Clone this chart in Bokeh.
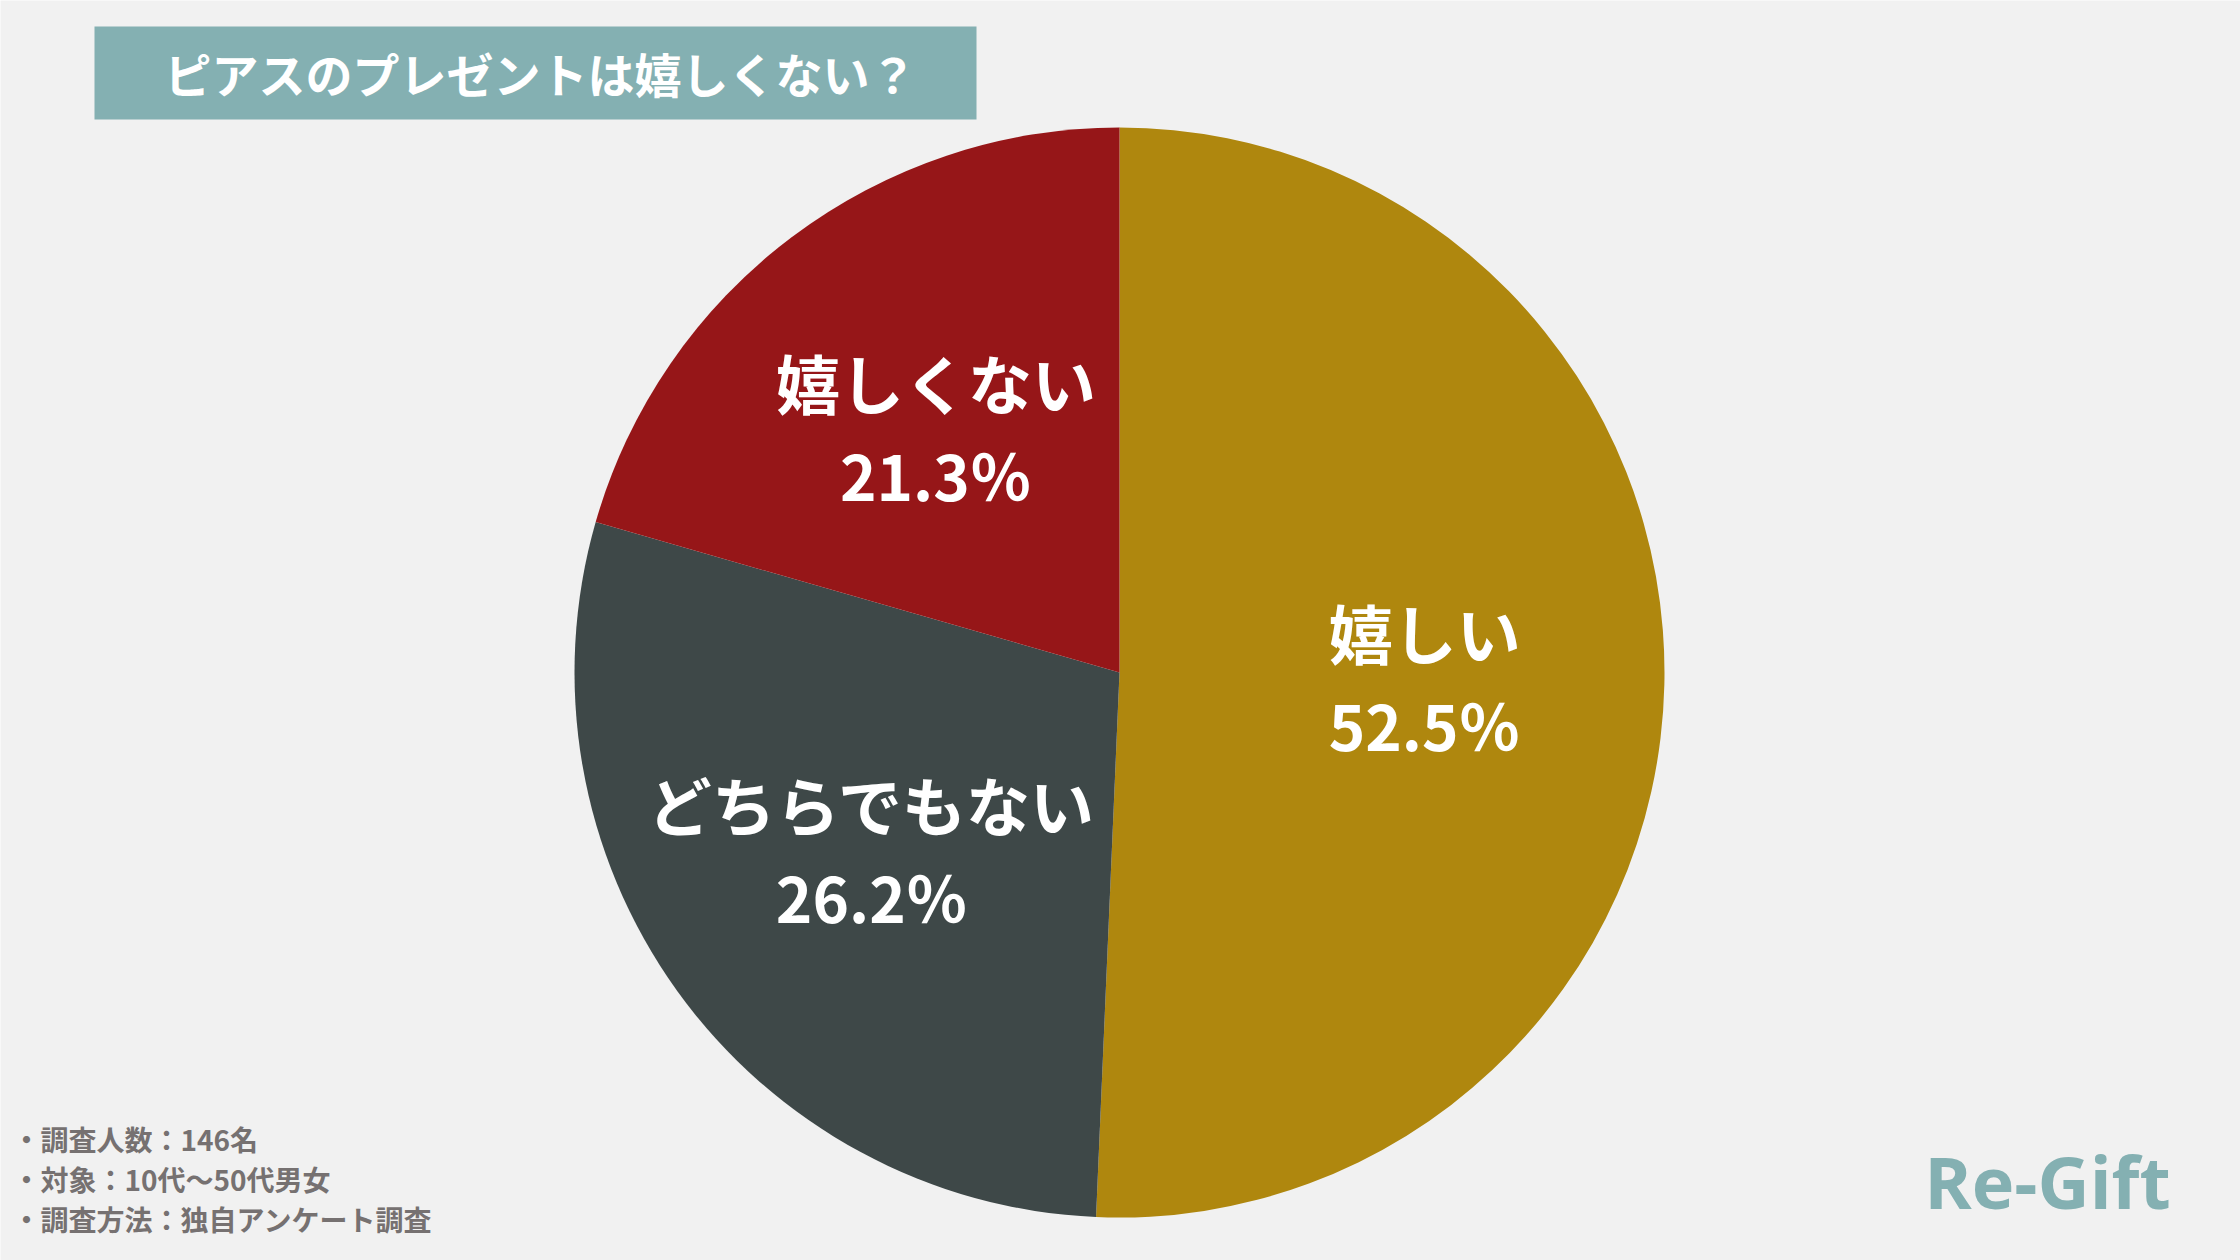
import math
from bokeh.plotting import figure
from bokeh.models import ColumnDataSource
from bokeh.core.properties import value
from bokeh.embed import file_html
from bokeh.resources import INLINE

# ---- data ----
categories = ["嬉しい", "どちらでもない", "嬉しくない"]
counts = [74, 42, 30]              # wedge sizes as drawn (146 respondents)
percent_labels = [52.5, 26.2, 21.3]  # percentages printed on the slices
colors = ["#AF870E", "#3E4848", "#961618"]
title_text = "ピアスのプレゼントは嬉しくない？"
notes = ["・調査人数：146名", "・対象：10代〜50代男女", "・調査方法：独自アンケート調査"]
brand = "Re-Gift"

W, H = 2240, 1260
BG = "#F1F1F1"
TEAL = "#84B0B2"
CJK = "Noto Sans CJK JP"

p = figure(width=W, height=H, x_range=(0, W), y_range=(0, H),
           output_backend="svg", toolbar_location=None,
           min_border=0, min_border_left=0, min_border_right=0,
           min_border_top=0, min_border_bottom=0)
p.axis.visible = False
p.grid.visible = False
p.outline_line_color = None
p.background_fill_color = BG
p.border_fill_color = BG

# pie geometry
cx, cy, R = 1119, H - 672, 545
total = sum(counts)
starts, ends, mids = [], [], []
acc = 0.0
for v in counts:
    a0 = math.pi / 2 - 2 * math.pi * acc / total
    acc += v
    a1 = math.pi / 2 - 2 * math.pi * acc / total
    starts.append(a0)
    ends.append(a1)
    mids.append((a0 + a1) / 2)

src = ColumnDataSource(dict(
    x=[cx] * len(counts), y=[cy] * len(counts),
    start=starts, end=ends, color=colors,
    lx=[cx + 0.56 * R * math.cos(m) for m in mids],
    ly=[cy + 0.56 * R * math.sin(m) for m in mids],
    name=categories,
    pct=[f"{v:.1f}％" for v in percent_labels],
))
p.wedge(x="x", y="y", radius=R, start_angle="start", end_angle="end",
        direction="clock", fill_color="color", line_color=None, source=src)

p.text(x="lx", y="ly", text="name", source=src, y_offset=-48,
       text_font=value(CJK), text_font_style="bold", text_font_size="64px",
       text_color="white", text_align="center", text_baseline="middle")
p.text(x="lx", y="ly", text="pct", source=src, y_offset=45,
       text_font=value(CJK), text_font_style="bold", text_font_size="62px",
       text_color="white", text_align="center", text_baseline="middle")

# title box
p.quad(left=[94], right=[976], top=[H - 26], bottom=[H - 119],
       fill_color=TEAL, line_color=None)
p.text(x=[540], y=[H - 72], text=[title_text],
       text_font=value(CJK), text_font_style="bold", text_font_size="47px",
       text_color="white", text_align="center", text_baseline="middle")

# notes
p.text(x=[12] * 3, y=[H - 1138, H - 1178, H - 1218], text=notes,
       text_font=value(CJK), text_font_style="bold", text_font_size="28px",
       text_color="#767171", text_align="left", text_baseline="middle")

# brand
p.text(x=[2047], y=[H - 1180], text=[brand],
       text_font=value("Open Sans"), text_font_style="bold", text_font_size="72px",
       text_color=TEAL, text_align="center", text_baseline="middle")

open("out.html", "w").write(file_html(p, INLINE))
